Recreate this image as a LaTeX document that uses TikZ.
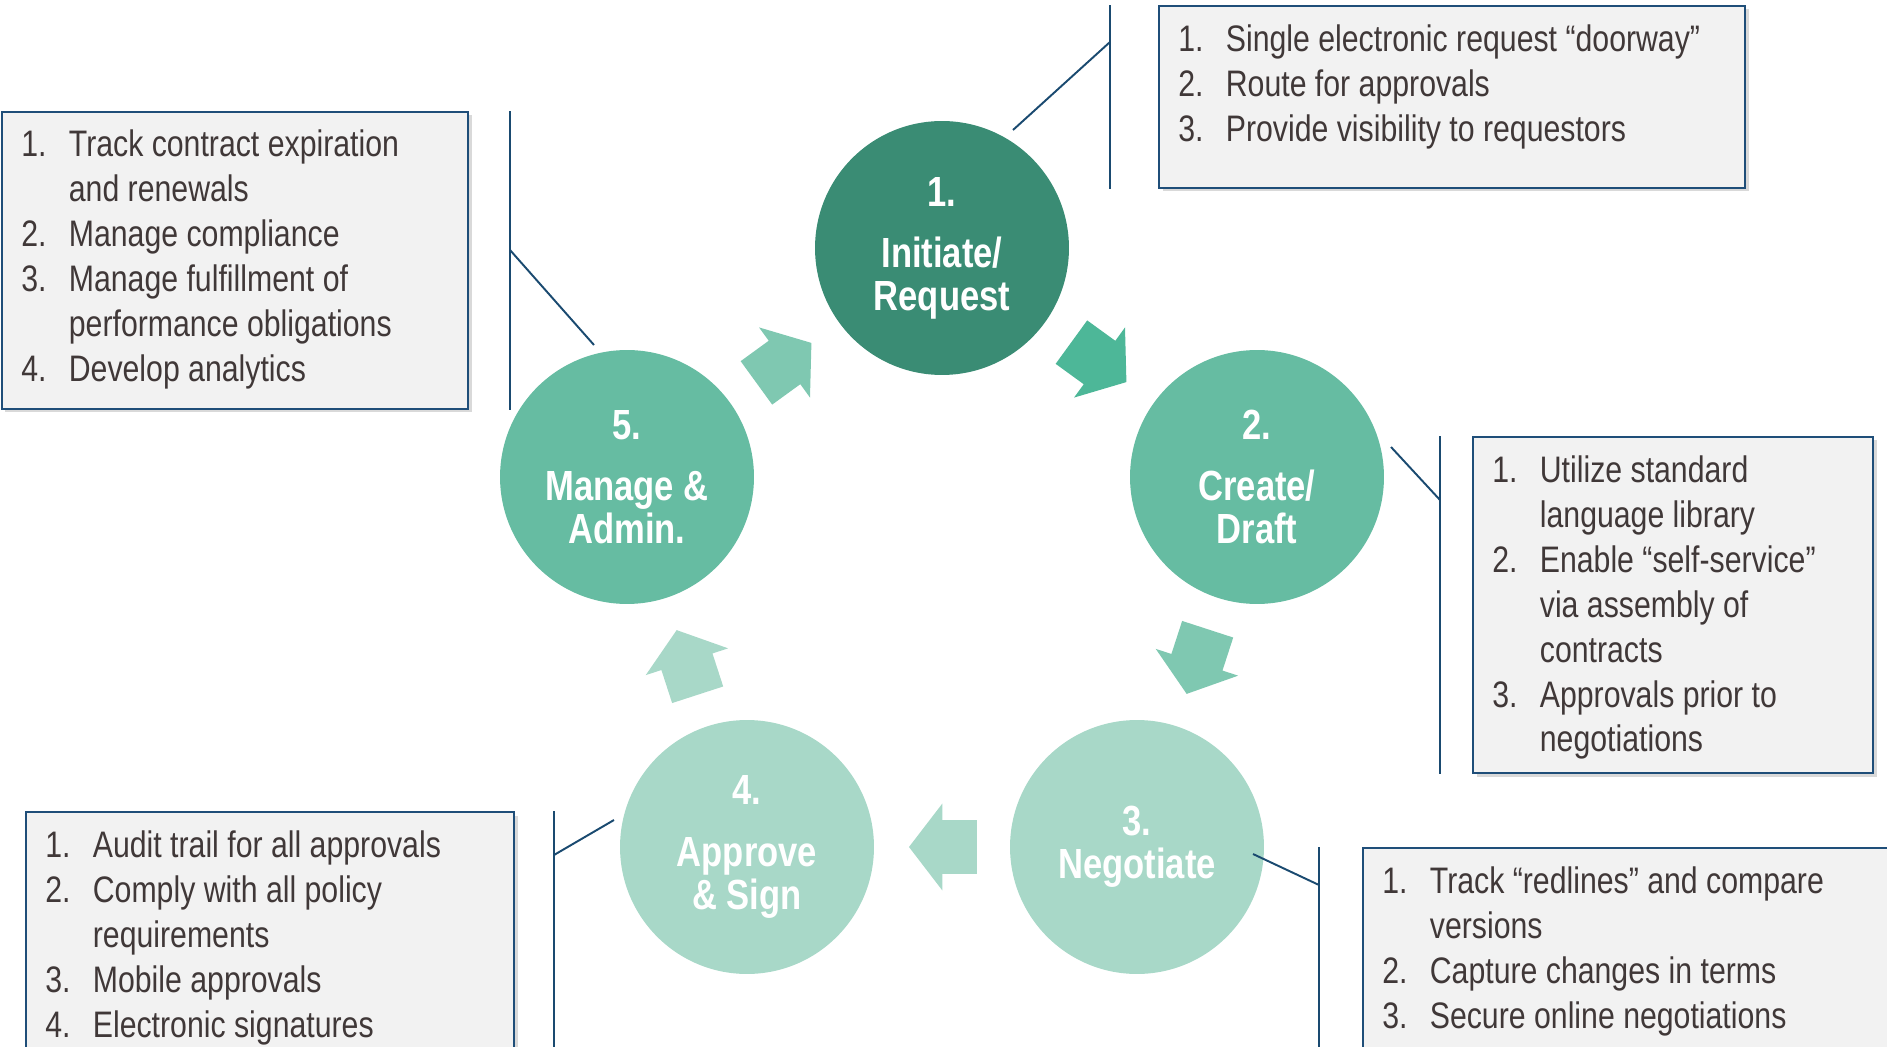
\documentclass[tikz,border=0pt]{standalone}
\usepackage{fontspec}
\setmainfont{Liberation Sans}[FakeStretch=0.82]
\usetikzlibrary{shapes.arrows,shadows,calc,fit}

\definecolor{stagedark}{HTML}{3A8C74}
\definecolor{stagemid}{HTML}{66BCA2}
\definecolor{stagelight}{HTML}{A8D8C8}
\definecolor{arrowdark}{HTML}{4DB798}
\definecolor{arrowmid}{HTML}{7FC8B1}
\definecolor{boxfill}{HTML}{F2F2F2}
\definecolor{boxline}{HTML}{1F4E79}
\definecolor{leadline}{HTML}{1A4A70}
\definecolor{listtext}{HTML}{403838}

\newcommand{\itnum}[1]{\makebox[0.95cm][l]{#1}}
\newcommand{\itcont}{\hspace*{0.95cm}}

\begin{document}
\begin{tikzpicture}[x=0.02cm,y=0.02cm,
    stage/.style={circle,minimum size=5.08cm,inner sep=0pt,align=center,text=white,
      font=\fontsize{24}{24.5}\selectfont\bfseries},
    flow/.style={single arrow,single arrow head extend=0.33cm,single arrow tip angle=105,
      minimum height=1.36cm,inner xsep=0pt,inner ysep=0.53cm,anchor=tip},
    infobox/.style={draw=boxline,line width=1.1pt,fill=boxfill,inner sep=0pt,
      drop shadow={shadow xshift=0.07cm,shadow yshift=-0.07cm,opacity=0.3}},
    infotext/.style={anchor=north west,inner sep=0pt,align=left,text=listtext,
      font=\fontsize{21}{25.6}\selectfont},
    lead/.style={draw=leadline,line width=1.1pt}]
    \useasboundingbox (0,0) rectangle (1887,-1047);

    % stages
    \node[stage,fill=stagedark] (c1) at (942,-248) {1.\\[0.36cm]Initiate/\\Request};
    \node[stage,fill=stagemid] (c2) at (1257,-477) {2.\\[0.36cm]Create/\\Draft};
    \node[stage,fill=stagelight] (c3) at (1137,-847) {3.\\Negotiate};
    \node[stage,fill=stagelight] (c4) at (747,-847) {4.\\[0.36cm]Approve\\\& Sign};
    \node[stage,fill=stagemid] (c5) at (627,-477) {5.\\[0.36cm]Manage \&\\Admin.};

    % arrows between stages (tip placed past the midpoint)
    \node[flow,fill=arrowdark,rotate=-36] (a12) at ($(c1)!4.57cm!(c2)$) {};
    \node[flow,fill=arrowmid,rotate=-108] (a23) at ($(c2)!4.57cm!(c3)$) {};
    \node[flow,fill=stagelight,rotate=180] (a34) at ($(c3)!4.57cm!(c4)$) {};
    \node[flow,fill=stagelight,rotate=108] (a45) at ($(c4)!4.57cm!(c5)$) {};
    \node[flow,fill=arrowmid,rotate=36] (a51) at ($(c5)!4.57cm!(c1)$) {};

    % boxes
    \node[infobox,fit={(1159,-6) (1745,-188)}] (b1) {};
    \node[infobox,fit={(1473,-437) (1873,-773)}] (b2) {};
    \node[infobox,fit={(1363,-848) (1900,-1060)}] (b3) {};
    \node[infobox,fit={(26,-812) (514,-1060)}] (b4) {};
    \node[infobox,fit={(2,-112) (468,-409)}] (b5) {};

    \node[infotext] (t1) at ([shift={(20,-19)}]b1.north west) {%
      \itnum{1.}Single electronic request “doorway”\\
      \itnum{2.}Route for approvals\\
      \itnum{3.}Provide visibility to requestors};
    \node[infotext] (t2) at ([shift={(20,-19)}]b2.north west) {%
      \itnum{1.}Utilize standard\\
      \itcont language library\\
      \itnum{2.}Enable “self-service”\\
      \itcont via assembly of\\
      \itcont contracts\\
      \itnum{3.}Approvals prior to\\
      \itcont negotiations};
    \node[infotext] (t3) at ([shift={(20,-19)}]b3.north west) {%
      \itnum{1.}Track “redlines” and compare\\
      \itcont versions\\
      \itnum{2.}Capture changes in terms\\
      \itnum{3.}Secure online negotiations};
    \node[infotext] (t4) at ([shift={(20,-19)}]b4.north west) {%
      \itnum{1.}Audit trail for all approvals\\
      \itnum{2.}Comply with all policy\\
      \itcont requirements\\
      \itnum{3.}Mobile approvals\\
      \itnum{4.}Electronic signatures};
    \node[infotext] (t5) at ([shift={(20,-18)}]b5.north west) {%
      \itnum{1.}Track contract expiration\\
      \itcont and renewals\\
      \itnum{2.}Manage compliance\\
      \itnum{3.}Manage fulfillment of\\
      \itcont performance obligations\\
      \itnum{4.}Develop analytics};

    % leader lines
    \coordinate (k1) at (1013,-130); \coordinate (j1) at (1110,-42);
    \coordinate (k2) at (1391,-447); \coordinate (j2) at (1440,-500);
    \coordinate (k3) at (1253,-854); \coordinate (j3) at (1319,-885);
    \coordinate (k4) at (614,-820);  \coordinate (j4) at (554,-855);
    \coordinate (k5) at (594,-345);  \coordinate (j5) at (510,-250);
    \draw[lead] (b1.north -| j1) -- (b1.south -| j1);
    \draw[lead] (b2.north -| j2) -- (b2.south -| j2);
    \draw[lead] (b3.north -| j3) -- (b3.south -| j3);
    \draw[lead] (b4.north -| j4) -- (b4.south -| j4);
    \draw[lead] (b5.north -| j5) -- (b5.south -| j5);
    \draw[lead] (k1) -- (j1);
    \draw[lead] (k2) -- (j2);
    \draw[lead] (k3) -- (j3);
    \draw[lead] (k4) -- (j4);
    \draw[lead] (k5) -- (j5);
\end{tikzpicture}
\end{document}
